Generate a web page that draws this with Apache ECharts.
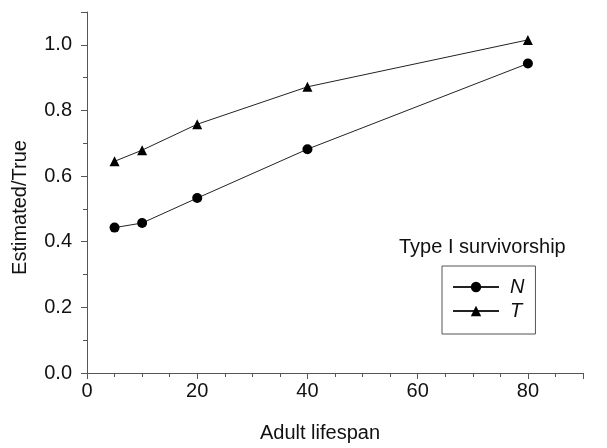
<!DOCTYPE html>
<html>
<head>
<meta charset="utf-8">
<script src="https://cdn.jsdelivr.net/npm/echarts@6/dist/echarts.min.js"></script>
<style>
  html, body { margin: 0; padding: 0; background: #fff; }
  #chart { width: 607px; height: 448px; }
</style>
</head>
<body>
<div id="chart"></div>
<script>
// adult lifespan values (x)
const lifespan = [5, 10, 20, 40, 80];
// Estimated/True ratios
const seriesN = [0.443, 0.457, 0.533, 0.682, 0.943];
const seriesT = [0.645, 0.679, 0.758, 0.872, 1.015];

const font = 'Liberation Sans, Arial, sans-serif';
const axisCol = '#555';
const txtCol = '#111';

const chart = echarts.init(document.getElementById('chart'));

const makeAxis = (extra) => Object.assign({
  type: 'value',
  nameLocation: 'middle',
  axisLine: { show: true, lineStyle: { color: axisCol, width: 1 } },
  axisTick: { show: true, inside: false, length: 6, lineStyle: { color: axisCol } },
  splitLine: { show: false }
}, extra);

chart.setOption({
  animation: false,
  grid: { left: 87, top: 12, right: 24, bottom: 72, containLabel: false },
  title: {
    text: 'Type I survivorship',
    left: 399, top: 237,
    padding: 0,
    textStyle: { fontFamily: font, fontSize: 20, fontWeight: 'normal', color: txtCol }
  },
  legend: {
    orient: 'vertical',
    left: 442, top: 266,
    padding: [11, 11, 13, 10],
    itemGap: 4,
    itemWidth: 46,
    itemHeight: 13,
    borderColor: axisCol,
    borderWidth: 1,
    textStyle: { fontFamily: font, fontSize: 20, fontStyle: 'italic', color: txtCol, padding: [0, 0, 0, 6] },
    data: ['N', 'T']
  },
  xAxis: makeAxis({
    min: 0, max: 90, interval: 20,
    name: 'Adult lifespan', nameGap: 50,
    nameTextStyle: { fontFamily: font, fontSize: 20, color: txtCol, padding: [0, 30, 0, 0] },
    minorTick: { show: true, splitNumber: 4, length: 4, lineStyle: { color: axisCol } },
    axisLabel: {
      fontFamily: font, fontSize: 20, color: txtCol, margin: 8,
      formatter: v => (v % 20 === 0 && v <= 80) ? String(v) : ''
    }
  }),
  yAxis: makeAxis({
    min: 0, max: 1.1, interval: 0.2,
    name: 'Estimated/True', nameGap: 57,
    nameTextStyle: { fontFamily: font, fontSize: 20, color: txtCol, padding: [0, 30, 0, 0] },
    minorTick: { show: true, splitNumber: 2, length: 4, lineStyle: { color: axisCol } },
    axisLabel: {
      fontFamily: font, fontSize: 20, color: txtCol, margin: 15,
      formatter: v => v <= 1.0001 ? v.toFixed(1) : ''
    }
  }),
  series: [
    {
      name: 'N', type: 'line',
      data: lifespan.map((x, i) => [x, seriesN[i]]),
      symbol: 'circle', symbolSize: 10,
      itemStyle: { color: '#000' },
      lineStyle: { color: '#222', width: 1 }
    },
    {
      name: 'T', type: 'line',
      data: lifespan.map((x, i) => [x, seriesT[i]]),
      symbol: 'triangle', symbolSize: 10,
      itemStyle: { color: '#000' },
      lineStyle: { color: '#222', width: 1 }
    }
  ]
});
</script>
</body>
</html>
